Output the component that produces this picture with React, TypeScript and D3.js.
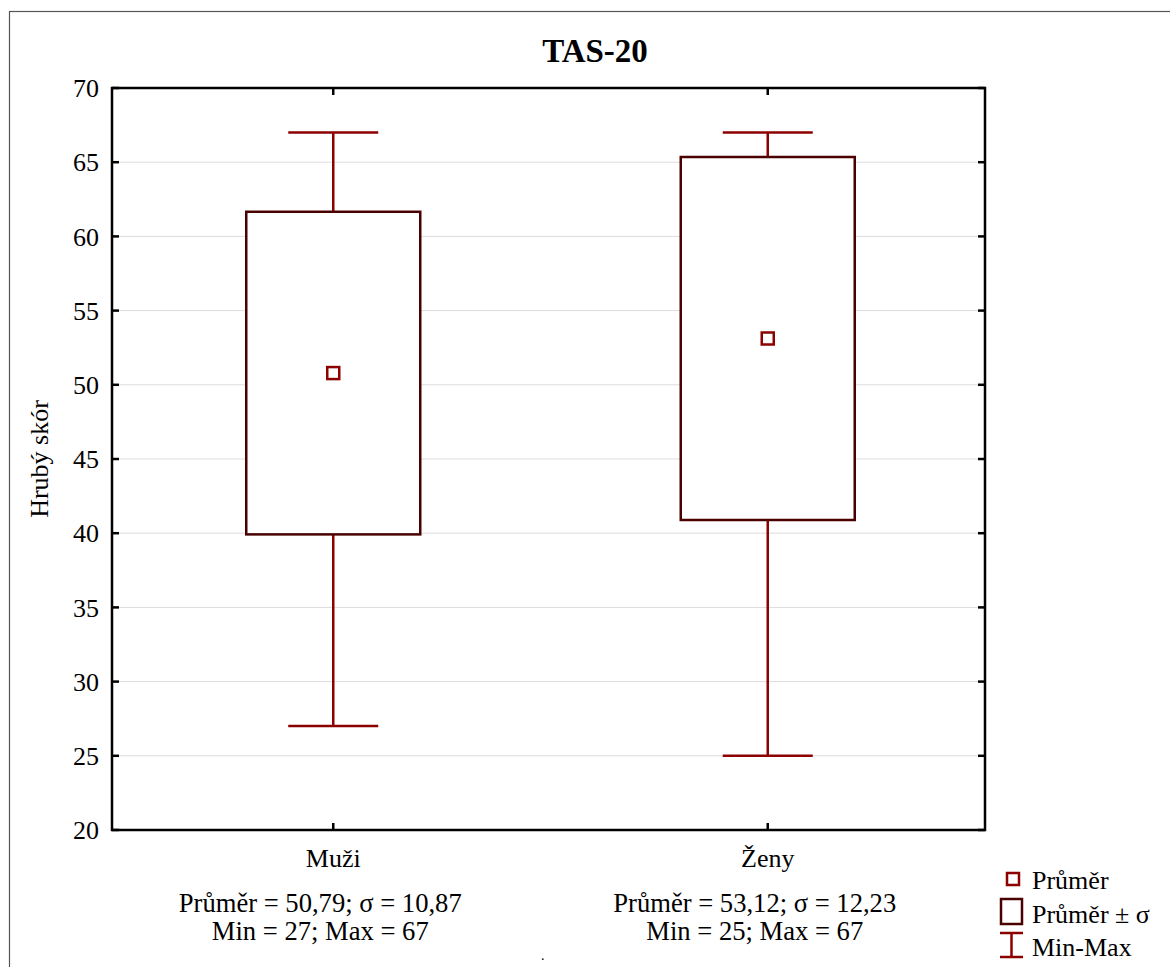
import * as d3 from "d3";
import { useEffect, useRef } from "react";

// Box plot "TAS-20": mean marker, box = mean ± sd, whiskers = min..max.
const groups = ["Muži", "Ženy"];
const means = [50.79, 53.12];
const sds = [10.87, 12.23];
const mins = [27, 25];
const maxs = [67, 67];
const yTicks = [20, 25, 30, 35, 40, 45, 50, 55, 60, 65, 70];

const W = 1170;
const H = 967;
const FONT = "'Liberation Serif', 'Times New Roman', serif";
const WHISKER = "#8c0000";
const BOX = "#4a0000";

const fmt = (v: number) => d3.format(".2f")(v).replace(".", ",");

export default function App() {
  const svgRef = useRef<SVGSVGElement>(null);

  useEffect(() => {
    if (!svgRef.current) return;
    const plot = { left: 112, right: 985, top: 88, bottom: 830 };

    const x = d3
      .scalePoint<string>()
      .domain(groups)
      .range([plot.left + 4, plot.right])
      .padding(0.5);
    const y = d3.scaleLinear().domain([20, 70]).range([plot.bottom, plot.top]);

    const svg = d3.select(svgRef.current);
    svg.selectAll("*").remove();

    svg.append("rect").attr("width", W).attr("height", H).attr("fill", "#fff");
    // outer frame (only top/left visible in the crop)
    svg
      .append("rect")
      .attr("x", 9.5)
      .attr("y", 11.5)
      .attr("width", W + 20)
      .attr("height", H + 20)
      .attr("fill", "none")
      .attr("stroke", "#555")
      .attr("stroke-width", 1.2);

    svg
      .append("text")
      .attr("x", 595)
      .attr("y", 62)
      .attr("text-anchor", "middle")
      .attr("font-family", FONT)
      .attr("font-weight", "bold")
      .attr("font-size", 33)
      .text("TAS-20");

    // gridlines
    svg
      .append("g")
      .selectAll("line")
      .data(yTicks.filter((t) => t > 20 && t < 70))
      .join("line")
      .attr("x1", plot.left)
      .attr("x2", plot.right)
      .attr("y1", (d) => y(d))
      .attr("y2", (d) => y(d))
      .attr("stroke", "#dcdcdc")
      .attr("stroke-width", 1);

    const boxHalf = 87;
    const capHalf = 45;
    const g = svg.append("g");
    groups.forEach((name, i) => {
      const cx = x(name) ?? 0;
      g.append("line")
        .attr("x1", cx)
        .attr("x2", cx)
        .attr("y1", y(mins[i]))
        .attr("y2", y(maxs[i]))
        .attr("stroke", WHISKER)
        .attr("stroke-width", 2.5);
      [mins[i], maxs[i]].forEach((v) => {
        g.append("line")
          .attr("x1", cx - capHalf)
          .attr("x2", cx + capHalf)
          .attr("y1", y(v))
          .attr("y2", y(v))
          .attr("stroke", WHISKER)
          .attr("stroke-width", 2.5);
      });
      const hi = y(means[i] + sds[i]);
      const lo = y(means[i] - sds[i]);
      g.append("rect")
        .attr("x", cx - boxHalf)
        .attr("y", hi)
        .attr("width", boxHalf * 2)
        .attr("height", lo - hi)
        .attr("fill", "#fff")
        .attr("stroke", BOX)
        .attr("stroke-width", 2.5);
      g.append("rect")
        .attr("x", cx - 6)
        .attr("y", y(means[i]) - 6)
        .attr("width", 12)
        .attr("height", 12)
        .attr("fill", "#fff")
        .attr("stroke", WHISKER)
        .attr("stroke-width", 2.5);

      // category label + stats
      g.append("text")
        .attr("x", cx)
        .attr("y", 867)
        .attr("text-anchor", "middle")
        .attr("font-family", FONT)
        .attr("font-size", 26)
        .text(name);
      g.append("text")
        .attr("x", cx - 13)
        .attr("y", 912)
        .attr("text-anchor", "middle")
        .attr("font-family", FONT)
        .attr("font-size", 26.6)
        .text(`Průměr = ${fmt(means[i])}; σ = ${fmt(sds[i])}`);
      g.append("text")
        .attr("x", cx - 13)
        .attr("y", 940)
        .attr("text-anchor", "middle")
        .attr("font-family", FONT)
        .attr("font-size", 26.6)
        .text(`Min = ${mins[i]}; Max = ${maxs[i]}`);
    });

    // axes frame + inward ticks
    const ax = svg.append("g").attr("stroke", "#000").attr("stroke-width", 2.5);
    ax.append("rect")
      .attr("x", plot.left)
      .attr("y", plot.top)
      .attr("width", plot.right - plot.left)
      .attr("height", plot.bottom - plot.top)
      .attr("fill", "none");
    yTicks.forEach((t) => {
      ax.append("line").attr("x1", plot.left).attr("x2", plot.left + 7).attr("y1", y(t)).attr("y2", y(t));
      ax.append("line").attr("x1", plot.right - 7).attr("x2", plot.right).attr("y1", y(t)).attr("y2", y(t));
    });
    groups.forEach((name) => {
      const cx = x(name) ?? 0;
      ax.append("line").attr("x1", cx).attr("x2", cx).attr("y1", plot.top).attr("y2", plot.top + 7);
      ax.append("line").attr("x1", cx).attr("x2", cx).attr("y1", plot.bottom - 7).attr("y2", plot.bottom);
    });

    svg
      .append("g")
      .selectAll("text")
      .data(yTicks)
      .join("text")
      .attr("x", plot.left - 13)
      .attr("y", (d) => y(d))
      .attr("dy", "0.35em")
      .attr("text-anchor", "end")
      .attr("font-family", FONT)
      .attr("font-size", 26)
      .text((d) => d);

    svg
      .append("text")
      .attr("transform", `translate(48,${(plot.top + plot.bottom) / 2}) rotate(-90)`)
      .attr("text-anchor", "middle")
      .attr("font-family", FONT)
      .attr("font-size", 26)
      .text("Hrubý skór");

    // legend
    const lg = svg.append("g");
    lg.append("rect")
      .attr("x", 1007)
      .attr("y", 873)
      .attr("width", 12)
      .attr("height", 12)
      .attr("fill", "#fff")
      .attr("stroke", WHISKER)
      .attr("stroke-width", 2.5);
    lg.append("rect")
      .attr("x", 1001)
      .attr("y", 899)
      .attr("width", 21)
      .attr("height", 25)
      .attr("fill", "#fff")
      .attr("stroke", BOX)
      .attr("stroke-width", 2.5);
    [933, 957].forEach((yy) => {
      lg.append("line")
        .attr("x1", 1000)
        .attr("x2", 1023)
        .attr("y1", yy)
        .attr("y2", yy)
        .attr("stroke", WHISKER)
        .attr("stroke-width", 2.5);
    });
    lg.append("line")
      .attr("x1", 1011.5)
      .attr("x2", 1011.5)
      .attr("y1", 933)
      .attr("y2", 957)
      .attr("stroke", WHISKER)
      .attr("stroke-width", 2.5);
    const legendText = ["Průměr", "Průměr ± σ", "Min-Max"];
    const legendY = [889, 923, 956];
    legendText.forEach((t, i) => {
      lg.append("text")
        .attr("x", 1032)
        .attr("y", legendY[i])
        .attr("font-family", FONT)
        .attr("font-size", 26)
        .text(t);
    });

    // stray dot present in the original export
    svg
      .append("text")
      .attr("x", 541)
      .attr("y", 960)
      .attr("font-family", FONT)
      .attr("font-size", 14)
      .text(".");
  }, []);

  return (
    <svg
      ref={svgRef}
      width={W}
      height={H}
      viewBox={`0 0 ${W} ${H}`}
      style={{ position: "absolute", left: 0, top: 0, display: "block" }}
    />
  );
}
